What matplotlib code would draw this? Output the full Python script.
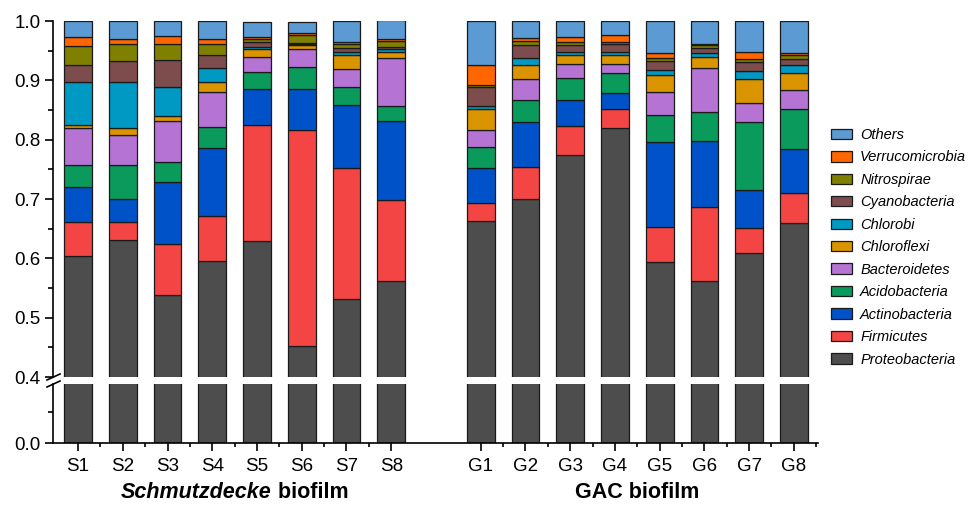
import matplotlib
matplotlib.use("Agg")
import matplotlib.pyplot as plt
from matplotlib.patches import Patch
from matplotlib.lines import Line2D
import numpy as np

plt.rcParams['font.family'] = ['Liberation Sans', 'DejaVu Sans']

samples = ["S1", "S2", "S3", "S4", "S5", "S6", "S7", "S8",
           "G1", "G2", "G3", "G4", "G5", "G6", "G7", "G8"]

# relative abundance of each phylum, bottom of the stack first
proteobacteria  = [0.604, 0.631, 0.539, 0.595, 0.630, 0.452, 0.531, 0.561,
                   0.663, 0.700, 0.775, 0.820, 0.594, 0.561, 0.609, 0.659]
firmicutes      = [0.058, 0.031, 0.086, 0.077, 0.194, 0.365, 0.222, 0.137,
                   0.031, 0.054, 0.048, 0.031, 0.059, 0.126, 0.042, 0.051]
actinobacteria  = [0.058, 0.038, 0.103, 0.114, 0.061, 0.068, 0.105, 0.134,
                   0.059, 0.075, 0.044, 0.027, 0.143, 0.111, 0.064, 0.074]
acidobacteria   = [0.038, 0.058, 0.035, 0.036, 0.029, 0.037, 0.031, 0.025,
                   0.034, 0.038, 0.037, 0.034, 0.045, 0.048, 0.114, 0.067]
bacteroidetes   = [0.061, 0.050, 0.068, 0.058, 0.025, 0.030, 0.030, 0.080,
                   0.029, 0.035, 0.024, 0.016, 0.040, 0.074, 0.032, 0.033]
chloroflexi     = [0.006, 0.012, 0.009, 0.018, 0.014, 0.007, 0.024, 0.011,
                   0.035, 0.024, 0.014, 0.015, 0.028, 0.019, 0.041, 0.028]
chlorobi        = [0.073, 0.078, 0.048, 0.022, 0.003, 0.002, 0.004, 0.004,
                   0.006, 0.012, 0.005, 0.004, 0.009, 0.007, 0.013, 0.014]
cyanobacteria   = [0.028, 0.034, 0.047, 0.022, 0.008, 0.002, 0.008, 0.005,
                   0.032, 0.022, 0.012, 0.015, 0.014, 0.008, 0.016, 0.010]
nitrospirae     = [0.032, 0.030, 0.027, 0.020, 0.005, 0.014, 0.006, 0.009,
                   0.003, 0.007, 0.005, 0.002, 0.005, 0.005, 0.005, 0.006]
verrucomicrobia = [0.015, 0.008, 0.013, 0.008, 0.004, 0.002, 0.004, 0.003,
                   0.033, 0.005, 0.009, 0.012, 0.009, 0.003, 0.011, 0.004]
others          = [0.027, 0.030, 0.025, 0.030, 0.026, 0.020, 0.035, 0.032,
                   0.075, 0.028, 0.027, 0.024, 0.054, 0.038, 0.053, 0.054]

phyla = ["Proteobacteria", "Firmicutes", "Actinobacteria", "Acidobacteria",
         "Bacteroidetes", "Chloroflexi", "Chlorobi", "Cyanobacteria",
         "Nitrospirae", "Verrucomicrobia", "Others"]
values = [proteobacteria, firmicutes, actinobacteria, acidobacteria,
          bacteroidetes, chloroflexi, chlorobi, cyanobacteria,
          nitrospirae, verrucomicrobia, others]
colors = ["#4d4d4d", "#f44545", "#0052c8", "#0a9a5c", "#b574d3", "#d99400",
          "#0099c4", "#7d4c4c", "#7f7f00", "#ff6600", "#5b9ad3"]

# S samples at 1..8, G samples at 10..17
x = np.r_[np.arange(1, 9), np.arange(10, 18)]
bar_w = 0.62
edge = "#1a1a1a"

fig = plt.figure(figsize=(9.71, 5.08), dpi=100)
W, H = 971, 508
ax_hi = fig.add_axes([53 / W, 1 - 377 / H, 765 / W, 356 / H])
ax_lo = fig.add_axes([53 / W, 1 - 443 / H, 765 / W, 59 / H])

for ax in (ax_hi, ax_lo):
    bottom = np.zeros(len(x))
    for vals, col in zip(values, colors):
        ax.bar(x, vals, bar_w, bottom=bottom, color=col,
               edgecolor=edge, linewidth=0.9)
        bottom += np.array(vals)
    ax.set_xlim(0.44, 17.54)
    for s in ("top", "right"):
        ax.spines[s].set_visible(False)
    ax.spines["left"].set_linewidth(1.2)
    ax.tick_params(axis="y", direction="out", length=6, width=1.2,
                   labelsize=13.5, pad=3)
    ax.tick_params(axis="y", which="minor", direction="out", length=3.5, width=1.2)

ax_hi.set_ylim(0.4, 1.0)
ax_hi.spines["bottom"].set_visible(False)
ax_hi.set_yticks(np.arange(0.4, 1.01, 0.1))
ax_hi.set_yticklabels(["%.1f" % v for v in np.arange(0.4, 1.01, 0.1)])
ax_hi.set_yticks(np.arange(0.45, 1.0, 0.1), minor=True)
ax_hi.set_xticks([])

ax_lo.set_ylim(0, 0.38)
ax_lo.set_yticks([0.0])
ax_lo.set_yticklabels(["0.0"])
ax_lo.set_yticks([0.2], minor=True)
ax_lo.spines["bottom"].set_linewidth(1.2)
ax_lo.set_xticks(x)
ax_lo.set_xticklabels(samples)
ax_lo.set_xticks(np.r_[np.arange(1.5, 8), np.arange(10.5, 18)], minor=True)
ax_lo.tick_params(axis="x", direction="out", length=6, width=1.2,
                  labelsize=13.5, pad=5)
ax_lo.tick_params(axis="x", which="minor", direction="out", length=3, width=1.2)

# axis break marks on the y axis
for y0 in (380, 387):
    fig.add_artist(Line2D([47 / W, 60 / W], [1 - y0 / H, 1 - (y0 - 6) / H],
                          color="black", linewidth=1.2))

# group captions, Schmutzdecke in bold italic
t1 = fig.text(0, 1 - 492 / H, "Schmutzdecke", fontsize=15.5, fontweight="bold",
              fontstyle="italic", va="center", ha="left")
t2 = fig.text(0, 1 - 492 / H, " biofilm", fontsize=15.5, fontweight="bold",
              va="center", ha="left")
fig.canvas.draw()
r = fig.canvas.get_renderer()
w1 = t1.get_window_extent(r).width
w2 = t2.get_window_extent(r).width
cx = ax_lo.transData.transform((4.5, 0))[0]
start = cx - (w1 + w2) / 2
t1.set_x(start / W)
t2.set_x((start + w1) / W)
fig.text(ax_lo.transData.transform((13.5, 0))[0] / W, 1 - 492 / H,
         "GAC biofilm", fontsize=15.5, fontweight="bold", va="center", ha="center")

handles = [Patch(facecolor=c, edgecolor=edge, linewidth=0.9, label=p)
           for p, c in zip(phyla, colors)][::-1]
fig.legend(handles=handles, loc="upper left",
           bbox_to_anchor=(831 / W, 1 - 128 / H), frameon=False,
           borderpad=0, borderaxespad=0, handlelength=1.45, handleheight=0.72,
           handletextpad=0.55, labelspacing=0.58,
           prop={"size": 10.5, "style": "italic"})

fig.savefig("out.png", dpi=100)
